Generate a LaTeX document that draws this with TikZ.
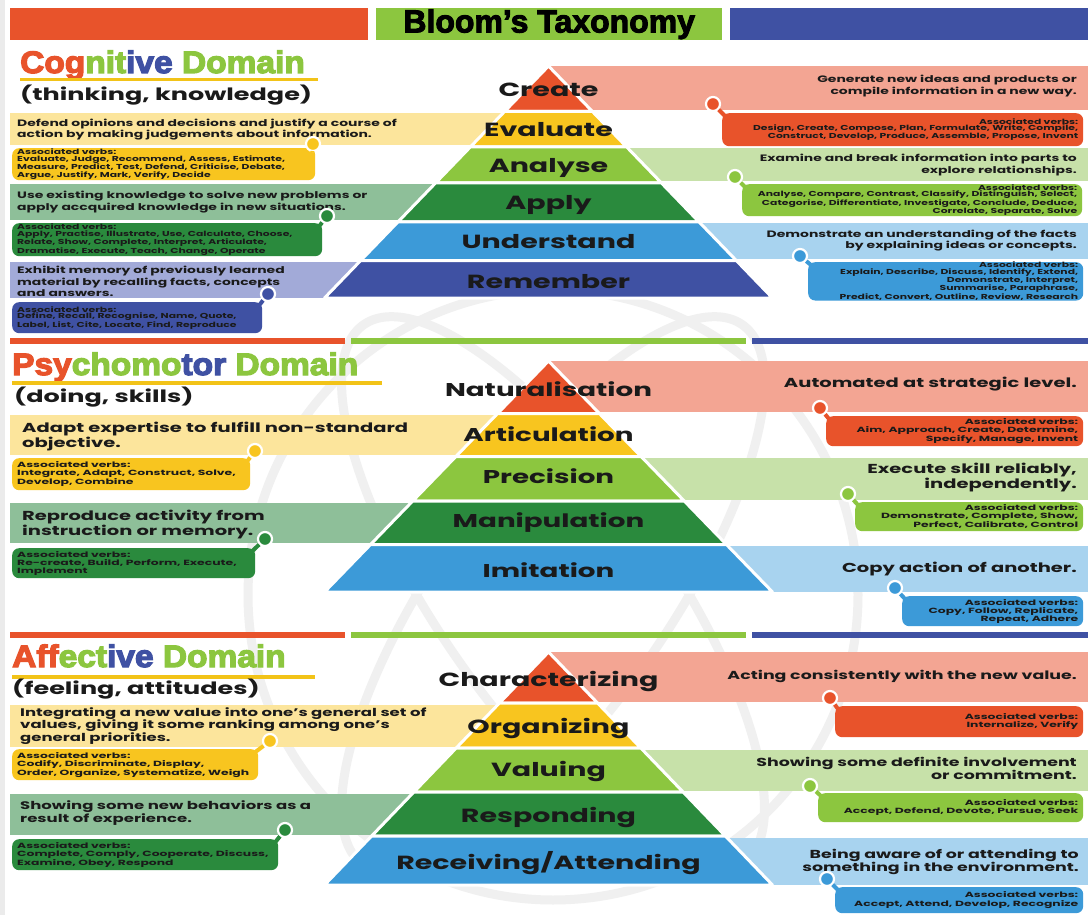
\documentclass[tikz,border=0pt]{standalone}
\usepackage{fontspec}
\usetikzlibrary{calc}
\newfontfamily\popw{Poppins}[FakeStretch=1.5]
\newfontfamily\popv{Poppins}[FakeStretch=1.65]
\newfontfamily\popvA{Poppins}[FakeStretch=1.5]
\newfontfamily\titlef{Liberation Sans}[FakeBold=3,FakeStretch=1.0]
\newfontfamily\domf{Liberation Sans}[FakeBold=4,FakeStretch=1.08]
\definecolor{cRed}{HTML}{E8532B}
\definecolor{cSalmon}{HTML}{F3A593}
\definecolor{cYel}{HTML}{F8C51F}
\definecolor{cYelL}{HTML}{FCE59C}
\definecolor{cGrn}{HTML}{8CC63F}
\definecolor{cGrnL}{HTML}{C7E1A9}
\definecolor{cDgrn}{HTML}{2A8A3D}
\definecolor{cDgrnL}{HTML}{8EBF99}
\definecolor{cBlu}{HTML}{3C9AD8}
\definecolor{cBluL}{HTML}{A8D3EF}
\definecolor{cNavy}{HTML}{3F51A3}
\definecolor{cNavyL}{HTML}{A2AAD8}
\definecolor{cTxt}{HTML}{1A1A1A}
\definecolor{cYline}{HTML}{F2C318}
\newcommand\tierP[5]{%
  \pgfmathsetmacro\tierK{224/(#2-#1)}%
  \pgfmathsetmacro\tierA{\tierK*(#3-#1)}%
  \pgfmathsetmacro\tierB{\tierK*(#4-#1)}%
  \filldraw[fill=#5, draw=white, line width=3pt, line join=round]
    ({548.5-\tierA},#3) -- ({548.5+\tierA},#3) -- ({548.5+\tierB},#4) -- ({548.5-\tierB},#4) -- cycle;}
\tikzset{
  pyrlabel/.style={anchor=base, inner sep=0pt, text=cTxt, font=\popw\bfseries\fontsize{19}{19}\selectfont},
  descL/.style={anchor=west, align=left, inner sep=0pt, text=cTxt},
  descR/.style={anchor=east, align=right, inner sep=0pt, text=cTxt},
  dA/.style={font=\popw\bfseries\fontsize{9.3}{11.3}\selectfont},
  dB/.style={font=\popw\bfseries\fontsize{13}{15}\selectfont},
  dCL/.style={font=\popw\bfseries\fontsize{11}{12.2}\selectfont},
  dCR/.style={font=\popw\bfseries\fontsize{11.6}{13}\selectfont},
  vA/.style={font=\popvA\bfseries\fontsize{7.2}{6.3}\selectfont},
  vB/.style={font=\popv\bfseries\fontsize{7.5}{8}\selectfont},
  vC/.style={font=\popv\bfseries\fontsize{7.5}{8.5}\selectfont},
  verbbox/.style={rounded corners=7pt, inner xsep=5pt, inner ysep=0pt, anchor=north west, text=cTxt},
  dot/.style={circle, minimum size=14pt, inner sep=0pt, draw=white, line width=2.2pt},
  conn/.style={line width=4pt},
  domtitle/.style={anchor=base west, inner sep=0pt, font=\domf\bfseries\fontsize{31}{31}\selectfont},
  subtitle/.style={anchor=base west, inner sep=0pt, text=cTxt, font=\popw\bfseries\fontsize{17}{17}\selectfont},
  wm/.style={draw=black!6, line width=9pt},
}
\begin{document}
\begin{tikzpicture}[x=1pt,y=-1pt]
\useasboundingbox (0,0) rectangle (1088,915);
\fill[white] (0,0) rectangle (1088,915);
\fill[black!8] (0,0) rectangle (5,915);
% watermark
\begin{scope}[shift={(553,595)}]
  \draw[wm] (0,0) circle [radius=305];
  \draw[wm, rotate=55] (0,0) ellipse [x radius=330, y radius=115];
  \draw[wm, rotate=-55] (0,0) ellipse [x radius=330, y radius=115];
\end{scope}
% header
\fill[cRed] (10,8) rectangle (368,40);
\node[fill=cGrn, minimum width=346pt, minimum height=32pt, inner sep=0pt, anchor=north west,
      font=\titlef\bfseries\fontsize{32}{32}\selectfont, text=black] (title) at (376,8) {Bloom’s Taxonomy};
\fill[cNavy] (730,8) rectangle (1088,40);

% ===== Cognitive =====
\node[domtitle] (domA) at (20,73) {\textcolor{cRed}{Cog}\textcolor{cGrn}{nit}\textcolor{cNavy}{ive} \textcolor{cGrn}{Domain}};
\fill[cYline] (20,78) rectangle (318,81.5);
\node[subtitle] (subA) at (20,101) {(thinking, knowledge)};

\fill[cSalmon] (548.5,66) rectangle (1088,110);
\fill[cYelL] (10,113) rectangle (548.5,145.5);
\fill[cGrnL] (548.5,148.5) rectangle (1088,181.5);
\fill[cDgrnL] (10,184.5) rectangle (548.5,220.5);
\fill[cBluL] (548.5,223.5) rectangle (1088,259);
\fill[cNavyL] (10,262) rectangle (548.5,298);

\tierP{66}{298}{66}{111.5}{cRed}
\tierP{66}{298}{111.5}{147}{cYel}
\tierP{66}{298}{147}{183}{cGrn}
\tierP{66}{298}{183}{222}{cDgrn}
\tierP{66}{298}{222}{260.5}{cBlu}
\tierP{66}{298}{260.5}{298}{cNavy}

\node[pyrlabel] (lCreate) at (548.5,97) {Create};
\node[pyrlabel] (lEval) at (548.5,137) {Evaluate};
\node[pyrlabel] (lAnal) at (548.5,173) {Analyse};
\node[pyrlabel] (lApply) at (548.5,210) {Apply};
\node[pyrlabel] (lUnd) at (548.5,248) {Understand};
\node[pyrlabel] (lRem) at (548.5,288) {Remember};

\node[descR, dA] (tCreate) at (1077,86) {Generate new ideas and products or\\compile information in a new way.};
\node[descL, dA] (tEval) at (17,129.5) {Defend opinions and decisions and justify a course of\\action by making judgements about information.};
\node[descR, dA] (tAnal) at (1077,165) {Examine and break information into parts to\\explore relationships.};
\node[descL, dA] (tApply) at (17,202) {Use existing knowledge to solve new problems or\\apply accquired knowledge in new situations.};
\node[descR, dA] (tUnd) at (1077,240.5) {Demonstrate an understanding of the facts\\by explaining ideas or concepts.};
\node[descL, dA] (tRem) at (17,281.5) {Exhibit memory of previously learned\\material by recalling facts, concepts\\and answers.};

\node[verbbox, vA, fill=cRed, minimum width=361pt, minimum height=33pt, text width=351pt, align=right] (vCreate) at (722,113)
  {Associated verbs:\\Design, Create, Compose, Plan, Formulate, Write, Compile,\\Construct, Develop, Produce, Assemble, Propose, Invent};
\node[verbbox, vA, fill=cYel, minimum width=303pt, minimum height=32pt, text width=293pt, align=left] (vEval) at (12,148)
  {Associated verbs:\\Evaluate, Judge, Recommend, Assess, Estimate,\\Measure, Predict, Test, Defend, Criticise, Debate,\\Argue, Justify, Mark, Verify, Decide};
\node[verbbox, vA, fill=cGrn, minimum width=340pt, minimum height=32pt, text width=330pt, align=right] (vAnal) at (742,184)
  {Associated verbs:\\Analyse, Compare, Contrast, Classify, Distinguish, Select,\\Categorise, Differentiate, Investigate, Conclude, Deduce,\\Correlate, Separate, Solve};
\node[verbbox, vA, fill=cDgrn, minimum width=310pt, minimum height=33pt, text width=300pt, align=left] (vApply) at (12,223)
  {Associated verbs:\\Apply, Practise, Illustrate, Use, Calculate, Choose,\\Relate, Show, Complete, Interpret, Articulate,\\Dramatise, Execute, Teach, Change, Operate};
\node[verbbox, vA, fill=cBlu, minimum width=275pt, minimum height=35pt, text width=265pt, align=right] (vUnd) at (808,262)
  {Associated verbs:\\Explain, Describe, Discuss, Identify, Extend,\\Demonstrate, Interpret, Summarise, Paraphrase,\\Predict, Convert, Outline, Review, Research};
\node[verbbox, vA, fill=cNavy, minimum width=250pt, minimum height=31pt, text width=240pt, align=left] (vRem) at (12,302)
  {Associated verbs:\\Define, Recall, Recognise, Name, Quote,\\Label, List, Cite, Locate, Find, Reproduce};

\node[dot, fill=cRed] (dCreate) at (713,104) {};
\node[dot, fill=cYel] (dEval) at (313,144) {};
\node[dot, fill=cGrn] (dAnal) at (735,177) {};
\node[dot, fill=cDgrn] (dApply) at (327,216) {};
\node[dot, fill=cBlu] (dUnd) at (800,256) {};
\node[dot, fill=cNavy] (dRem) at (268,294) {};
\draw[conn, cRed] (dCreate) -- ($(vCreate.north west)+(3,3)$);
\draw[conn, cYel] (dEval) -- ($(vEval.north east)+(-3,3)$);
\draw[conn, cGrn] (dAnal) -- ($(vAnal.north west)+(3,3)$);
\draw[conn, cDgrn] (dApply) -- ($(vApply.north east)+(-3,3)$);
\draw[conn, cBlu] (dUnd) -- ($(vUnd.north west)+(3,3)$);
\draw[conn, cNavy] (dRem) -- ($(vRem.north east)+(-3,3)$);

% divider 1
\fill[cRed] (10,338) rectangle (345,344);
\fill[cGrn] (351,338) rectangle (746,344);
\fill[cNavy] (752,338) rectangle (1088,344);

% ===== Psychomotor =====
\node[domtitle] (domB) at (12,375) {\textcolor{cRed}{Psy}\textcolor{cGrn}{chomo}\textcolor{cNavy}{tor} \textcolor{cGrn}{Domain}};
\fill[cYline] (12,381) rectangle (382,384.5);
\node[subtitle] (subB) at (14,402) {(doing, skills)};

\fill[cSalmon] (548.5,361) rectangle (1088,412);
\fill[cYelL] (10,415) rectangle (548.5,455);
\fill[cGrnL] (548.5,458) rectangle (1088,499.5);
\fill[cDgrnL] (10,502.5) rectangle (548.5,543);
\fill[cBluL] (548.5,546) rectangle (1088,592);

\tierP{361}{592}{361}{413.5}{cRed}
\tierP{361}{592}{413.5}{456.5}{cYel}
\tierP{361}{592}{456.5}{501}{cGrn}
\tierP{361}{592}{501}{544.5}{cDgrn}
\tierP{361}{592}{544.5}{592}{cBlu}

\node[pyrlabel, font=\popw\bfseries\fontsize{18.5}{18.5}\selectfont] (lNat) at (548.5,396) {Naturalisation};
\node[pyrlabel, font=\popw\bfseries\fontsize{18.5}{18.5}\selectfont] (lArt) at (548.5,441) {Articulation};
\node[pyrlabel, font=\popw\bfseries\fontsize{18.5}{18.5}\selectfont] (lPre) at (548.5,483) {Precision};
\node[pyrlabel, font=\popw\bfseries\fontsize{18.5}{18.5}\selectfont] (lMan) at (548.5,527) {Manipulation};
\node[pyrlabel, font=\popw\bfseries\fontsize{18.5}{18.5}\selectfont] (lImi) at (548.5,577) {Imitation};

\node[descR, dB] (tNat) at (1077,384) {Automated at strategic level.};
\node[descL, dB] (tArt) at (22,436.5) {Adapt expertise to fulfill non-standard\\objective.};
\node[descR, dB] (tPre) at (1077,478) {Execute skill reliably,\\independently.};
\node[descL, dB] (tMan) at (22,524.5) {Reproduce activity from\\instruction or memory.};
\node[descR, dB] (tImi) at (1077,569) {Copy action of another.};

\node[verbbox, vB, fill=cRed, minimum width=257pt, minimum height=30pt, text width=247pt, align=right] (vNat) at (826,416)
  {Associated verbs:\\Aim, Approach, Create, Determine,\\Specify, Manage, Invent};
\node[verbbox, vB, fill=cYel, minimum width=238pt, minimum height=32pt, text width=228pt, align=left] (vArt) at (12,458)
  {Associated verbs:\\Integrate, Adapt, Construct, Solve,\\Develop, Combine};
\node[verbbox, vB, fill=cGrn, minimum width=228pt, minimum height=29pt, text width=218pt, align=right] (vPre) at (855,502)
  {Associated verbs:\\Demonstrate, Complete, Show,\\Perfect, Calibrate, Control};
\node[verbbox, vB, fill=cDgrn, minimum width=243pt, minimum height=30pt, text width=233pt, align=left] (vMan) at (12,548)
  {Associated verbs:\\Re-create, Build, Perform, Execute,\\Implement};
\node[verbbox, vB, fill=cBlu, minimum width=181pt, minimum height=30pt, text width=171pt, align=right] (vImi) at (902,596)
  {Associated verbs:\\Copy, Follow, Replicate,\\Repeat, Adhere};

\node[dot, fill=cRed] (dNat) at (820,408) {};
\node[dot, fill=cYel] (dArt) at (255,451) {};
\node[dot, fill=cGrn] (dPre) at (848,494) {};
\node[dot, fill=cDgrn] (dMan) at (265,539) {};
\node[dot, fill=cBlu] (dImi) at (895,588) {};
\draw[conn, cRed] (dNat) -- ($(vNat.north west)+(3,3)$);
\draw[conn, cYel] (dArt) -- ($(vArt.north east)+(-3,3)$);
\draw[conn, cGrn] (dPre) -- ($(vPre.north west)+(3,3)$);
\draw[conn, cDgrn] (dMan) -- ($(vMan.north east)+(-3,3)$);
\draw[conn, cBlu] (dImi) -- ($(vImi.north west)+(3,3)$);

% divider 2
\fill[cRed] (10,632) rectangle (345,638);
\fill[cGrn] (351,632) rectangle (746,638);
\fill[cNavy] (752,632) rectangle (1088,638);

% ===== Affective =====
\node[domtitle] (domC) at (12,667) {\textcolor{cRed}{Aff}\textcolor{cGrn}{ect}\textcolor{cNavy}{ive} \textcolor{cGrn}{Domain}};
\fill[cYline] (12,675) rectangle (315,678.5);
\node[subtitle] (subC) at (12,694) {(feeling, attitudes)};

\fill[cSalmon] (548.5,652) rectangle (1088,701.5);
\fill[cYelL] (10,704.5) rectangle (548.5,746.5);
\fill[cGrnL] (548.5,749.5) rectangle (1088,790.5);
\fill[cDgrnL] (10,793.5) rectangle (548.5,834.5);
\fill[cBluL] (548.5,837.5) rectangle (1088,885);

\tierP{652}{885}{652}{703}{cRed}
\tierP{652}{885}{703}{748}{cYel}
\tierP{652}{885}{748}{792}{cGrn}
\tierP{652}{885}{792}{836}{cDgrn}
\tierP{652}{885}{836}{885}{cBlu}

\node[pyrlabel] (lCha) at (548.5,686) {Characterizing};
\node[pyrlabel] (lOrg) at (548.5,733) {Organizing};
\node[pyrlabel] (lVal) at (548.5,776) {Valuing};
\node[pyrlabel] (lRes) at (548.5,822) {Responding};
\node[pyrlabel] (lRec) at (548.5,869) {Receiving/Attending};

\node[descR, dCR] (tCha) at (1077,676) {Acting consistently with the new value.};
\node[descL, dCL] (tOrg) at (20,726) {Integrating a new value into one’s general set of\\values, giving it some ranking among one’s\\general priorities.};
\node[descR, dCR] (tVal) at (1077,768.5) {Showing some definite involvement\\or commitment.};
\node[descL, dCL] (tRes) at (20,813) {Showing some new behaviors as a\\result of experience.};
\node[descR, dCR] (tRec) at (1079,862) {Being aware of or attending to\\something in the environment.};

\node[verbbox, vC, fill=cRed, minimum width=248pt, minimum height=31pt, text width=238pt, align=right] (vCha) at (835,706)
  {Associated verbs:\\Internalize, Verify};
\node[verbbox, vC, fill=cYel, minimum width=246pt, minimum height=31pt, text width=236pt, align=left] (vOrg) at (12,749)
  {Associated verbs:\\Codify, Discriminate, Display,\\Order, Organize, Systematize, Weigh};
\node[verbbox, vC, fill=cGrn, minimum width=265pt, minimum height=29pt, text width=255pt, align=right] (vVal) at (818,793)
  {Associated verbs:\\Accept, Defend, Devote, Pursue, Seek};
\node[verbbox, vC, fill=cDgrn, minimum width=266pt, minimum height=31pt, text width=256pt, align=left] (vRes) at (12,839)
  {Associated verbs:\\Complete, Comply, Cooperate, Discuss,\\Examine, Obey, Respond};
\node[verbbox, vC, fill=cBlu, minimum width=248pt, minimum height=26pt, text width=238pt, align=right] (vRec) at (835,887)
  {Associated verbs:\\Accept, Attend, Develop, Recognize};

\node[dot, fill=cRed] (dCha) at (830,698) {};
\node[dot, fill=cYel] (dOrg) at (270,741) {};
\node[dot, fill=cGrn] (dVal) at (810,786) {};
\node[dot, fill=cDgrn] (dRes) at (285,830) {};
\node[dot, fill=cBlu] (dRec) at (827,879) {};
\draw[conn, cRed] (dCha) -- ($(vCha.north west)+(3,3)$);
\draw[conn, cYel] (dOrg) -- ($(vOrg.north east)+(-3,3)$);
\draw[conn, cGrn] (dVal) -- ($(vVal.north west)+(3,3)$);
\draw[conn, cDgrn] (dRes) -- ($(vRes.north east)+(-3,3)$);
\draw[conn, cBlu] (dRec) -- ($(vRec.north west)+(3,3)$);
\end{tikzpicture}
\end{document}
